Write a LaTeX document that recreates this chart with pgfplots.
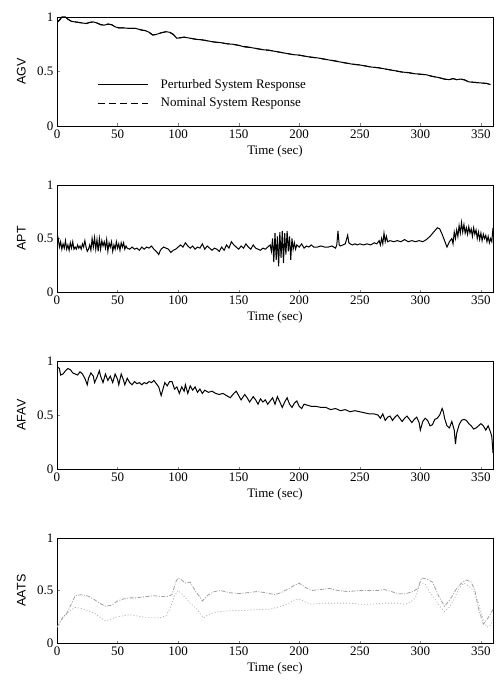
\documentclass[border=0pt]{standalone}
\usepackage{pgfplots}
\pgfplotsset{compat=1.18}
\usepackage{fontspec}
\setmainfont{Liberation Serif}
\setsansfont{Liberation Sans}
\pgfplotsset{
  myax/.style={
    scale only axis, width=436pt, height=107pt,
    xmin=0, xmax=360, ymin=0, ymax=1,
    xtick={0,50,...,350}, ytick={0,0.5,1},
    tick pos=left, tick align=inside, major tick length=2.5pt,
    axis line style={line width=0.8pt},
    /pgf/number format/assume math mode=true,
    tick label style={font=\fontsize{13}{15}\selectfont},
    xlabel style={font=\fontsize{13}{15}\selectfont},
    ylabel style={font=\sffamily\fontsize{12.5}{15}\selectfont},
    xlabel={Time (sec)},
    xlabel style={at={(axis description cs:0.5,0)}, anchor=center, yshift=-25pt},
    ylabel style={at={(axis description cs:-0.082,0.5)}, anchor=center},
    clip=true,
  },
}
\begin{document}
\begin{tikzpicture}
\useasboundingbox (0,0) rectangle (495pt,-682pt);
% ---------------- AGV
\begin{axis}[myax, at={(57pt,-126pt)}, anchor=south west, height=109pt, ylabel={AGV},
  legend style={at={(axis cs:31,0.295)}, anchor=west, draw=none, fill=none,
    font=\fontsize{13}{15}\selectfont, row sep=4pt, cells={anchor=west}},
  legend image code/.code={\draw[#1] (0pt,0pt) -- (50pt,0pt); \path (60pt,0pt);}]
\addplot[black, line width=1pt] coordinates {
(0,0.95)(2,0.97)(4,1.0)(7,1.0)(9,0.98)(12,0.96)(15,0.955)(18,0.95)(21,0.945)(24,0.94)(27,0.95)(30,0.955)(33,0.945)(36,0.93)(39,0.925)(42,0.935)(45,0.93)(48,0.91)(51,0.90)(55,0.90)(60,0.895)(65,0.895)(70,0.88)(73,0.875)(76,0.86)(79,0.835)(82,0.84)(86,0.855)(90,0.865)(93,0.86)(96,0.84)(99,0.805)(102,0.81)(105,0.815)(110,0.805)(115,0.795)(120,0.79)(125,0.78)(130,0.77)(135,0.765)(140,0.755)(145,0.75)(150,0.74)(155,0.725)(160,0.72)(165,0.71)(170,0.70)(175,0.695)(180,0.685)(185,0.675)(190,0.665)(195,0.655)(200,0.65)(205,0.64)(210,0.63)(215,0.625)(220,0.615)(225,0.605)(230,0.595)(235,0.585)(240,0.575)(245,0.565)(250,0.56)(255,0.55)(260,0.54)(265,0.535)(270,0.525)(275,0.515)(280,0.505)(285,0.495)(290,0.49)(295,0.48)(300,0.475)(305,0.47)(310,0.455)(315,0.445)(320,0.43)(324,0.425)(327,0.435)(330,0.425)(333,0.43)(336,0.425)(340,0.405)(345,0.40)(350,0.395)(355,0.39)(358,0.38)
};
\addlegendentry{Perturbed System Response}
\addplot[black, line width=1pt, dash pattern=on 7pt off 4pt] coordinates {
(0,0.95)(2,0.97)(4,1.0)(7,1.0)(9,0.98)(12,0.96)(15,0.955)(18,0.95)(21,0.945)(24,0.94)(27,0.95)(30,0.955)(33,0.945)(36,0.93)(39,0.925)(42,0.935)(45,0.93)(48,0.91)(51,0.90)(55,0.90)(60,0.895)(65,0.895)(70,0.88)(73,0.875)(76,0.86)(79,0.835)(82,0.84)(86,0.855)(90,0.865)(93,0.86)(96,0.84)(99,0.805)(102,0.81)(105,0.815)(110,0.805)(115,0.795)(120,0.79)(125,0.78)(130,0.77)(135,0.765)(140,0.755)(145,0.75)(150,0.74)(155,0.73)(160,0.72)(165,0.71)(170,0.70)(175,0.695)(180,0.685)(185,0.675)(190,0.665)(195,0.655)(200,0.65)(205,0.64)(210,0.632)(215,0.625)(220,0.615)(225,0.605)(230,0.597)(235,0.585)(240,0.575)(245,0.567)(250,0.56)(255,0.55)(260,0.54)(265,0.535)(270,0.525)(275,0.515)(280,0.505)(285,0.495)(290,0.49)(295,0.48)(300,0.475)(305,0.47)(310,0.455)(315,0.445)(320,0.43)(324,0.425)(327,0.435)(330,0.425)(333,0.43)(336,0.425)(340,0.405)(345,0.40)(350,0.395)(355,0.39)(358,0.38)
};
\addlegendentry{Nominal System Response}
\end{axis}
% ---------------- APT
\begin{axis}[myax, at={(57pt,-292pt)}, anchor=south west, height=107pt, ylabel={APT}]
\addplot[black, line width=1pt] coordinates {
(0,0.55)(1,0.50)(2,0.42)(3,0.47)(4,0.40)(5,0.45)(6,0.41)(7,0.48)(8,0.40)(9,0.44)(10,0.39)(11,0.46)(12,0.41)(13,0.47)(14,0.40)(15,0.42)(16,0.40)(17,0.44)(18,0.41)(19,0.43)(20,0.40)(21,0.45)(22,0.42)(23,0.48)(24,0.42)(25,0.38)(26,0.40)(27,0.44)(28,0.39)(29,0.50)(30,0.42)(31,0.51)(32,0.40)(33,0.49)(34,0.38)(35,0.50)(36,0.40)(37,0.48)(38,0.43)(39,0.47)(40,0.41)(41,0.49)(42,0.38)(43,0.46)(44,0.42)(45,0.47)(46,0.38)(47,0.44)(48,0.40)(49,0.47)(50,0.41)(51,0.45)(52,0.39)(53,0.46)(54,0.42)(55,0.46)(56,0.40)(57,0.43)(58,0.41)(60,0.40)(62,0.42)(64,0.40)(66,0.41)(68,0.39)(70,0.42)(72,0.40)(74,0.42)(76,0.41)(78,0.43)(80,0.40)(82,0.38)(84,0.35)(85,0.38)(86,0.40)(88,0.42)(90,0.41)(92,0.40)(94,0.37)(96,0.39)(98,0.40)(100,0.42)(102,0.44)(104,0.42)(106,0.46)(108,0.43)(110,0.41)(112,0.43)(114,0.40)(116,0.42)(118,0.41)(120,0.45)(122,0.40)(124,0.43)(126,0.41)(128,0.39)(130,0.41)(132,0.40)(134,0.38)(136,0.42)(138,0.39)(140,0.44)(142,0.41)(144,0.47)(146,0.44)(148,0.42)(150,0.40)(152,0.43)(154,0.41)(156,0.45)(158,0.42)(160,0.40)(162,0.44)(164,0.41)(166,0.40)(168,0.39)(170,0.41)(172,0.40)(174,0.42)(176,0.44)(177,0.38)(178,0.50)(179,0.28)(180,0.55)(181,0.30)(182,0.52)(183,0.24)(184,0.56)(185,0.32)(186,0.57)(187,0.27)(188,0.55)(189,0.35)(190,0.57)(191,0.38)(192,0.52)(193,0.30)(194,0.50)(195,0.40)(196,0.46)(197,0.40)(198,0.44)(200,0.42)(202,0.45)(204,0.41)(206,0.43)(208,0.42)(210,0.44)(212,0.42)(215,0.42)(218,0.43)(221,0.42)(224,0.42)(227,0.43)(230,0.41)(231,0.44)(232,0.57)(233,0.44)(234,0.43)(236,0.44)(238,0.45)(240,0.53)(241,0.46)(242,0.45)(244,0.44)(246,0.45)(248,0.44)(250,0.45)(253,0.44)(256,0.45)(259,0.44)(262,0.46)(264,0.45)(266,0.48)(267,0.44)(268,0.50)(269,0.45)(270,0.55)(271,0.47)(272,0.52)(273,0.47)(275,0.48)(278,0.47)(281,0.48)(284,0.47)(287,0.49)(290,0.47)(293,0.48)(296,0.47)(299,0.48)(302,0.47)(305,0.49)(308,0.52)(311,0.56)(314,0.60)(316,0.59)(318,0.54)(320,0.48)(322,0.42)(324,0.47)(326,0.50)(327,0.45)(328,0.56)(329,0.50)(330,0.58)(331,0.52)(332,0.62)(333,0.55)(334,0.65)(335,0.56)(336,0.63)(337,0.55)(338,0.60)(339,0.54)(340,0.61)(341,0.55)(342,0.59)(343,0.52)(344,0.60)(345,0.54)(346,0.58)(347,0.50)(348,0.56)(349,0.49)(350,0.55)(351,0.48)(352,0.54)(353,0.50)(354,0.53)(355,0.47)(356,0.52)(357,0.46)(358,0.50)(359,0.47)(360,0.60)
};
\end{axis}
% ---------------- AFAV
\begin{axis}[myax, at={(57pt,-469pt)}, anchor=south west, height=108pt, ylabel={AFAV}]
\addplot[black, line width=1pt] coordinates {
(0,0.95)(2,0.93)(3,0.87)(5,0.88)(7,0.91)(9,0.93)(11,0.92)(13,0.89)(15,0.88)(17,0.87)(19,0.90)(21,0.88)(23,0.84)(25,0.78)(26,0.84)(28,0.89)(30,0.86)(31,0.80)(33,0.85)(35,0.91)(36,0.86)(38,0.80)(40,0.88)(42,0.82)(44,0.86)(46,0.80)(48,0.88)(50,0.83)(51,0.78)(53,0.88)(55,0.82)(56,0.78)(58,0.84)(60,0.80)(62,0.78)(64,0.81)(66,0.79)(68,0.80)(70,0.78)(72,0.80)(74,0.79)(76,0.81)(78,0.80)(80,0.82)(82,0.79)(84,0.76)(86,0.68)(87,0.72)(89,0.80)(91,0.77)(93,0.81)(95,0.81)(97,0.74)(99,0.76)(101,0.70)(103,0.76)(105,0.72)(106,0.78)(108,0.70)(110,0.77)(112,0.73)(114,0.76)(116,0.71)(118,0.74)(120,0.70)(122,0.73)(125,0.71)(128,0.72)(131,0.70)(134,0.69)(137,0.70)(140,0.68)(143,0.66)(146,0.70)(148,0.72)(150,0.68)(152,0.64)(155,0.69)(157,0.66)(159,0.62)(162,0.67)(164,0.64)(166,0.60)(168,0.65)(170,0.62)(172,0.64)(174,0.60)(176,0.63)(178,0.66)(180,0.60)(182,0.67)(184,0.62)(186,0.57)(188,0.62)(190,0.66)(192,0.60)(194,0.57)(196,0.61)(198,0.63)(200,0.58)(202,0.56)(204,0.60)(207,0.59)(210,0.58)(214,0.58)(218,0.57)(222,0.57)(226,0.55)(230,0.56)(234,0.54)(238,0.55)(242,0.53)(246,0.54)(250,0.53)(254,0.52)(258,0.51)(262,0.51)(265,0.50)(267,0.47)(269,0.51)(271,0.45)(273,0.48)(275,0.49)(277,0.45)(279,0.48)(281,0.50)(283,0.47)(285,0.44)(287,0.47)(289,0.49)(291,0.46)(293,0.43)(295,0.46)(297,0.48)(299,0.43)(300,0.36)(302,0.44)(304,0.47)(306,0.45)(308,0.40)(310,0.41)(312,0.46)(314,0.47)(316,0.50)(318,0.56)(319,0.53)(320,0.47)(322,0.40)(324,0.38)(326,0.44)(328,0.36)(329,0.23)(330,0.33)(332,0.41)(334,0.45)(336,0.46)(338,0.45)(340,0.42)(342,0.40)(344,0.37)(346,0.38)(348,0.40)(350,0.42)(352,0.40)(354,0.36)(356,0.40)(358,0.34)(359,0.30)(360,0.15)
};
\end{axis}
% ---------------- AATS
\begin{axis}[myax, at={(57pt,-643pt)}, anchor=south west, height=105pt, ylabel={AATS}]
\addplot[gray!75, line width=0.8pt, dash pattern=on 4pt off 1.5pt on 1pt off 1.5pt] coordinates {
(0,0.15)(5,0.25)(8,0.28)(15,0.45)(20,0.46)(25,0.45)(30,0.42)(35,0.38)(40,0.35)(45,0.36)(50,0.40)(55,0.42)(60,0.43)(65,0.43)(72,0.44)(80,0.45)(90,0.44)(95,0.46)(98,0.58)(100,0.62)(103,0.60)(106,0.57)(110,0.58)(113,0.52)(115,0.48)(118,0.44)(120,0.40)(125,0.46)(130,0.49)(135,0.50)(142,0.48)(150,0.47)(158,0.48)(165,0.49)(172,0.48)(180,0.46)(185,0.48)(190,0.51)(196,0.55)(200,0.57)(205,0.53)(210,0.50)(218,0.51)(225,0.52)(232,0.50)(240,0.49)(250,0.50)(260,0.50)(265,0.50)(270,0.51)(276,0.49)(282,0.47)(288,0.47)(294,0.49)(298,0.52)(301,0.62)(305,0.61)(310,0.58)(315,0.45)(320,0.35)(325,0.42)(330,0.52)(334,0.57)(338,0.60)(342,0.58)(345,0.50)(348,0.33)(352,0.18)(356,0.24)(360,0.32)
};
\addplot[gray!60, line width=0.8pt, dash pattern=on 1pt off 2pt] coordinates {
(0,0.15)(5,0.24)(10,0.30)(15,0.34)(20,0.33)(25,0.31)(30,0.29)(35,0.25)(40,0.21)(45,0.23)(50,0.25)(55,0.26)(60,0.27)(65,0.26)(70,0.25)(78,0.24)(85,0.24)(90,0.26)(93,0.32)(97,0.45)(100,0.50)(103,0.47)(106,0.43)(110,0.38)(115,0.33)(118,0.28)(121,0.24)(125,0.27)(130,0.29)(135,0.30)(145,0.31)(155,0.31)(165,0.32)(175,0.32)(182,0.34)(190,0.37)(196,0.41)(200,0.42)(205,0.39)(210,0.37)(220,0.38)(230,0.38)(240,0.38)(250,0.37)(260,0.37)(270,0.38)(280,0.38)(286,0.37)(292,0.39)(296,0.43)(300,0.58)(304,0.56)(308,0.48)(312,0.42)(316,0.35)(320,0.30)(324,0.34)(328,0.42)(332,0.52)(336,0.57)(340,0.54)(344,0.50)(348,0.38)(352,0.22)(355,0.15)(358,0.17)(360,0.22)
};
\end{axis}
\end{tikzpicture}
\end{document}
